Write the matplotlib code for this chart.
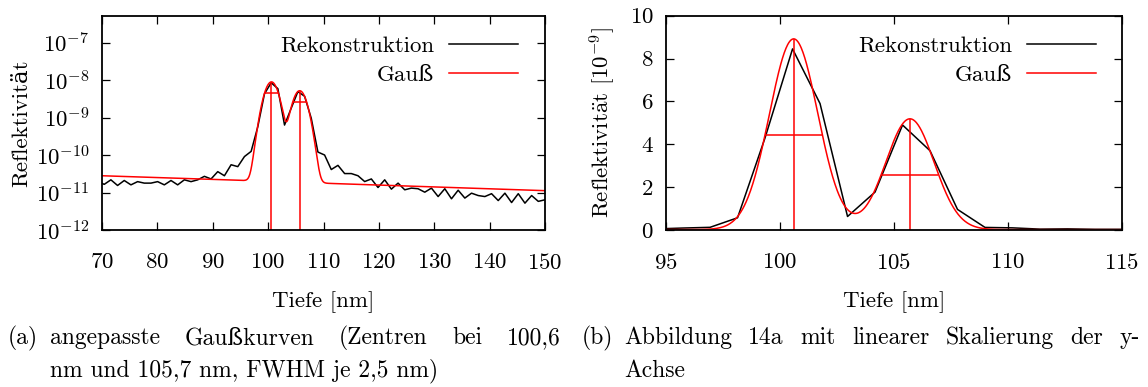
import numpy as np
import matplotlib
matplotlib.use('Agg')
import matplotlib.pyplot as plt

plt.rcParams['font.family'] = ['cmr10', 'DejaVu Serif']
plt.rcParams['mathtext.fontset'] = 'cm'
plt.rcParams['axes.unicode_minus'] = False
plt.rcParams['axes.formatter.use_mathtext'] = True

# ---------------- data ----------------
depth_first = 69.194      # nm, first sample of the reconstruction
depth_step = 1.206        # nm, sample spacing
reflectivity = [
    2.0e-11, 1.65e-11, 2.18e-11, 1.54e-11, 2.09e-11, 1.6e-11, 1.95e-11, 1.78e-11,
    1.78e-11, 1.95e-11, 1.6e-11, 2.09e-11, 1.6e-11, 2.18e-11, 1.95e-11, 2.18e-11,
    2.7e-11, 2.3e-11, 3.6e-11, 2.8e-11, 5.5e-11, 4.9e-11, 9.1e-11, 1.25e-10,
    5.7e-10, 4.3e-9, 8.45e-9, 5.9e-9, 6.3e-10, 1.77e-9, 4.9e-9, 3.7e-9,
    9.6e-10, 1.2e-10, 1.0e-10, 4.1e-11, 5.3e-11, 3.2e-11, 3.2e-11, 2.8e-11,
    1.96e-11, 2.3e-11, 1.36e-11, 2.18e-11, 1.23e-11, 1.78e-11, 1.18e-11, 1.31e-11,
    1.26e-11, 1.02e-11, 1.31e-11, 7.8e-12, 1.26e-11, 6.8e-12, 1.15e-11, 7.1e-12,
    9.6e-12, 8.3e-12, 7.8e-12, 9.3e-12, 6.1e-12, 9.6e-12, 5.4e-12, 9.3e-12,
    5.2e-12, 8.3e-12, 5.8e-12, 6.4e-12,
]
depth = depth_first + depth_step * np.arange(len(reflectivity))

# Gauss fit parameters
gauss_centers = [100.6, 105.7]     # nm
gauss_amplitudes = [8.9e-9, 5.17e-9]
gauss_fwhm = [2.5, 2.5]            # nm
background_depths = [70.0, 150.0]
background_values = [2.8e-11, 1.12e-11]

log_yticks = [1e-12, 1e-11, 1e-10, 1e-9, 1e-8, 1e-7]
log_yticklabels = ['$10^{-12}$', '$10^{-11}$', '$10^{-10}$', '$10^{-9}$', '$10^{-8}$', '$10^{-7}$']
left_xticks = [70, 80, 90, 100, 110, 120, 130, 140, 150]
right_xticks = [95, 100, 105, 110, 115]
right_yticks = [0, 2, 4, 6, 8, 10]
scale_lin = 1e-9


def gauss_model(x):
    x = np.asarray(x, dtype=float)
    lb = np.interp(x, background_depths, np.log10(background_values))
    y = 10 ** lb
    for c, a, w in zip(gauss_centers, gauss_amplitudes, gauss_fwhm):
        s = w / (2 * np.sqrt(2 * np.log(2)))
        y = y + a * np.exp(-(x - c) ** 2 / (2 * s ** 2))
    return y


RED = '#ff0000'
FS = 16.5

W, H = 1148, 387
fig = plt.figure(figsize=(W / 100, H / 100), dpi=100)


def ax_rect(x0, x1, y0, y1):
    return [x0 / W, 1 - y1 / H, (x1 - x0) / W, (y1 - y0) / H]


axL = fig.add_axes(ax_rect(102, 545, 15.7, 230))
axR = fig.add_axes(ax_rect(666, 1122, 15.7, 230))

xf = np.linspace(60, 160, 4000)

# ----- left (log) -----
axL.plot(depth, reflectivity, color='black', lw=1.1, label='Rekonstruktion')
axL.plot(xf, gauss_model(xf), color=RED, lw=1.1, label='Gauß')
ymin_log = 1e-12
for c, a, w in zip(gauss_centers, gauss_amplitudes, gauss_fwhm):
    peak = gauss_model([c])[0]
    axL.vlines(c, ymin_log, peak, color=RED, lw=1.1)
    axL.hlines(a / 2, c - w / 2, c + w / 2, color=RED, lw=1.1)
axL.set_yscale('log')
axL.set_xlim(70, 150)
axL.set_ylim(1e-12, 5.2e-7)
axL.set_xticks(left_xticks)
axL.set_yticks(log_yticks)
axL.set_yticklabels(log_yticklabels)
axL.yaxis.set_minor_locator(matplotlib.ticker.NullLocator())
axL.set_ylabel('Reflektivität', fontsize=FS, labelpad=3)

# ----- right (linear) -----
axR.plot(depth, np.array(reflectivity) / scale_lin, color='black', lw=1.1, label='Rekonstruktion')
axR.plot(xf, gauss_model(xf) / scale_lin, color=RED, lw=1.1, label='Gauß')
for c, a, w in zip(gauss_centers, gauss_amplitudes, gauss_fwhm):
    peak = gauss_model([c])[0] / scale_lin
    axR.vlines(c, 0, peak, color=RED, lw=1.1)
    axR.hlines(a / 2 / scale_lin, c - w / 2, c + w / 2, color=RED, lw=1.1)
axR.set_xlim(95, 115)
axR.set_ylim(0, 10)
axR.set_xticks(right_xticks)
axR.set_yticks(right_yticks)
axR.set_ylabel(r'Reflektivit$\ddot{\mathrm{a}}$t [10$^{-9}$]', fontsize=FS, labelpad=8)

for ax, legx in ((axL, 0.938), (axR, 0.942)):
    for s in ax.spines.values():
        s.set_linewidth(1.3)
    ax.tick_params(which='both', direction='in', top=True, right=True,
                   length=6, width=0.9, labelsize=FS)
    ax.tick_params(axis='x', pad=16.5)
    ax.tick_params(axis='y', pad=9)
    ax.set_xlabel('Tiefe [nm]', fontsize=FS, labelpad=13)
    leg = ax.legend(loc='upper right', bbox_to_anchor=(legx, 0.905), markerfirst=False,
                    frameon=False, fontsize=FS, handlelength=3.0, handletextpad=0.65,
                    labelspacing=0.4, borderpad=0, borderaxespad=0)

# ----- captions (justified first lines) -----
CFS = 17
renderer = fig.canvas.get_renderer()


def justified_line(words, x0, x1, y):
    texts = [fig.text(0, 1 - y / H, wd, fontsize=CFS, ha='left', va='center') for wd in words]
    widths = [t.get_window_extent(renderer).width for t in texts]
    gap = (x1 - x0 - sum(widths)) / (len(words) - 1)
    x = x0
    for t, wdt in zip(texts, widths):
        t.set_x(x / W)
        x += wdt + gap


fig.text(8 / W, 1 - 338 / H, '(a)', fontsize=CFS, ha='left', va='center')
justified_line(['angepasste', 'Gaußkurven', '(Zentren', 'bei', '100,6'], 50, 561, 338)
fig.text(50 / W, 1 - 371 / H, 'nm und 105,7 nm, FWHM je 2,5 nm)', fontsize=CFS, ha='left', va='center')

fig.text(582 / W, 1 - 338 / H, '(b)', fontsize=CFS, ha='left', va='center')
justified_line(['Abbildung', '14a', 'mit', 'linearer', 'Skalierung', 'der', 'y-'], 624, 1140, 338)
fig.text(624 / W, 1 - 371 / H, 'Achse', fontsize=CFS, ha='left', va='center')

fig.savefig('out.png', dpi=100)
